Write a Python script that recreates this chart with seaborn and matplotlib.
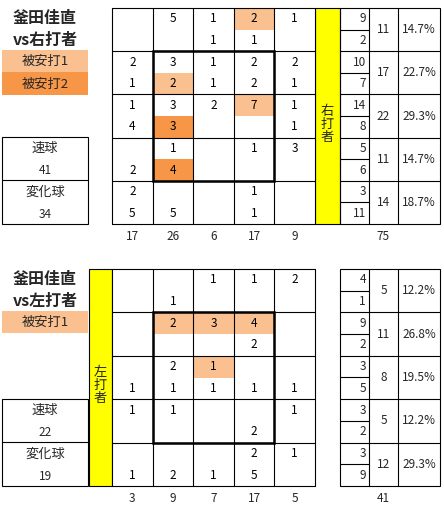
import numpy as np
import matplotlib
matplotlib.use('Agg')
import matplotlib.pyplot as plt
import seaborn as sns
from matplotlib.colors import ListedColormap
from matplotlib.patches import Rectangle

# upper number in each cell = fastball, lower = breaking ball (rows: high -> low, cols: in -> out)
R_FAST = [[0, 5, 1, 2, 1], [2, 3, 1, 2, 2], [1, 3, 2, 7, 1], [0, 1, 0, 1, 3], [2, 0, 0, 1, 0]]
R_BREAK = [[0, 0, 1, 1, 0], [1, 2, 1, 2, 1], [4, 3, 0, 0, 1], [2, 4, 0, 0, 0], [5, 5, 0, 1, 0]]
R_FAST_HIT = [[0, 0, 0, 1, 0], [0, 0, 0, 0, 0], [0, 0, 0, 1, 0], [0, 0, 0, 0, 0], [0, 0, 0, 0, 0]]
R_BREAK_HIT = [[0, 0, 0, 0, 0], [0, 1, 0, 0, 0], [0, 2, 0, 0, 0], [0, 2, 0, 0, 0], [0, 0, 0, 0, 0]]
R_COL_TOT = [17, 26, 6, 17, 9]
R_ROW_FAST = [9, 10, 14, 5, 3]
R_ROW_BREAK = [2, 7, 8, 6, 11]
R_ROW_TOT = [11, 17, 22, 11, 14]
R_ROW_PCT = ['14.7%', '22.7%', '29.3%', '14.7%', '18.7%']
R_TOTAL, R_FAST_TOT, R_BREAK_TOT = 75, 41, 34

L_FAST = [[0, 0, 1, 1, 2], [0, 2, 3, 4, 0], [0, 2, 1, 0, 0], [1, 1, 0, 0, 1], [0, 0, 0, 2, 1]]
L_BREAK = [[0, 1, 0, 0, 0], [0, 0, 0, 2, 0], [1, 1, 1, 1, 1], [0, 0, 0, 2, 0], [1, 2, 1, 5, 0]]
L_FAST_HIT = [[0, 0, 0, 0, 0], [0, 1, 1, 1, 0], [0, 0, 1, 0, 0], [0, 0, 0, 0, 0], [0, 0, 0, 0, 0]]
L_BREAK_HIT = [[0, 0, 0, 0, 0]] * 5
L_COL_TOT = [3, 9, 7, 17, 5]
L_ROW_FAST = [4, 9, 3, 3, 3]
L_ROW_BREAK = [1, 2, 5, 2, 9]
L_ROW_TOT = [5, 11, 8, 5, 12]
L_ROW_PCT = ['12.2%', '26.8%', '19.5%', '12.2%', '29.3%']
L_TOTAL, L_FAST_TOT, L_BREAK_TOT = 41, 22, 19

LIGHT, DARK, YELLOW = '#FAC090', '#F79646', '#FFFF00'
NUM_FS = 8.5
LW = 0.8

sns.set_theme(style='white')
plt.rcParams['font.family'] = ['Noto Sans CJK JP', 'DejaVu Sans']

W, H = 444, 511
fig = plt.figure(figsize=(W / 100, H / 100), dpi=100)
bg = fig.add_axes([0, 0, 1, 1])
bg.set_xlim(0, W)
bg.set_ylim(H, 0)
bg.axis('off')
cmap = ListedColormap(['white', LIGHT, DARK])


def fig_box(x0, y0, x1, y1):
    return [x0 / W, 1 - y1 / H, (x1 - x0) / W, (y1 - y0) / H]


def zone_grid(x0, y0, x1, y1, fast, brk, fast_hit, brk_hit, col_tot):
    ax = fig.add_axes(fig_box(x0, y0, x1, y1))
    hit = np.array([row for pair in zip(fast_hit, brk_hit) for row in pair])
    vals = [row for pair in zip(fast, brk) for row in pair]
    labels = np.array([[str(v) if v else '' for v in row] for row in vals])
    sns.heatmap(hit, ax=ax, cmap=cmap, vmin=0, vmax=2, cbar=False,
                annot=labels, fmt='', annot_kws=dict(color='black', fontsize=NUM_FS),
                xticklabels=False, yticklabels=False)
    for i in range(6):
        ax.axhline(2 * i, color='black', lw=LW, clip_on=False)
        ax.axvline(i, color='black', lw=LW, clip_on=False)
    # strike zone
    ax.add_patch(Rectangle((1, 2), 3, 6, fill=False, ec='black', lw=1.8, clip_on=False))
    cw = (x1 - x0) / 5
    for j, t in enumerate(col_tot):
        bg.text(x0 + (j + 0.5) * cw, y1 + 13, str(t), ha='center', va='center', fontsize=NUM_FS)


def side_table(y0, y1, fast_n, brk_n, tot_n, pct, total):
    rh = (y1 - y0) / 5
    bg.add_patch(Rectangle((340, y0), 100, y1 - y0, fill=False, ec='black', lw=LW))
    bg.vlines([369, 398], y0, y1, color='black', lw=LW)
    for i in range(5):
        ya = y0 + i * rh
        if i:
            bg.hlines(ya, 340, 440, color='black', lw=LW)
        bg.hlines(ya + rh / 2, 340, 369, color='black', lw=LW)
        bg.text(366, ya + rh / 4, str(fast_n[i]), ha='right', va='center', fontsize=NUM_FS)
        bg.text(366, ya + 3 * rh / 4, str(brk_n[i]), ha='right', va='center', fontsize=NUM_FS)
        bg.text(383.5, ya + rh / 2, str(tot_n[i]), ha='center', va='center', fontsize=NUM_FS)
        bg.text(419, ya + rh / 2, pct[i], ha='center', va='center', fontsize=NUM_FS)
    bg.text(383.5, y1 + 13, str(total), ha='center', va='center', fontsize=NUM_FS)


def side_labels(y_title, legend, y_pitch, fast_tot, brk_tot, vs_text):
    bg.text(45, y_title, '釜田佳直', ha='center', va='center', fontsize=11.5, fontweight='bold')
    bg.text(45, y_title + 22, vs_text, ha='center', va='center', fontsize=11.5, fontweight='bold')
    for k, (label, color) in enumerate(legend):
        ya = y_title + 32 + k * 22.5
        bg.add_patch(Rectangle((2, ya), 86, 22.5, fc=color, ec='none'))
        bg.text(45, ya + 11.5, label, ha='center', va='center', fontsize=9.5)
    bg.add_patch(Rectangle((2, y_pitch), 86, 87, fill=False, ec='black', lw=LW))
    bg.hlines(y_pitch + 43.5, 2, 88, color='black', lw=LW)
    bg.text(45, y_pitch + 11, '速球', ha='center', va='center', fontsize=9.5)
    bg.text(45, y_pitch + 33, str(fast_tot), ha='center', va='center', fontsize=NUM_FS)
    bg.text(45, y_pitch + 55, '変化球', ha='center', va='center', fontsize=9.5)
    bg.text(45, y_pitch + 77, str(brk_tot), ha='center', va='center', fontsize=NUM_FS)


def batter_bar(x0, y0, y1, text):
    w = 25 if x0 > 200 else 23
    bg.add_patch(Rectangle((x0, y0), w, y1 - y0, fc=YELLOW, ec='black', lw=LW))
    bg.text(x0 + w / 2, (y0 + y1) / 2 + 8, '\n'.join(text), ha='center', va='center',
            fontsize=9.5, linespacing=1.0)


# vs right-handed batters
side_labels(18, [('被安打1', LIGHT), ('被安打2', DARK)], 137, R_FAST_TOT, R_BREAK_TOT, 'vs右打者')
zone_grid(112, 8, 315, 224, R_FAST, R_BREAK, R_FAST_HIT, R_BREAK_HIT, R_COL_TOT)
batter_bar(315, 8, 224, '右打者')
side_table(8, 224, R_ROW_FAST, R_ROW_BREAK, R_ROW_TOT, R_ROW_PCT, R_TOTAL)

# vs left-handed batters
side_labels(279, [('被安打1', LIGHT)], 399, L_FAST_TOT, L_BREAK_TOT, 'vs左打者')
zone_grid(112, 269, 315, 486, L_FAST, L_BREAK, L_FAST_HIT, L_BREAK_HIT, L_COL_TOT)
batter_bar(89, 269, 486, '左打者')
side_table(269, 486, L_ROW_FAST, L_ROW_BREAK, L_ROW_TOT, L_ROW_PCT, L_TOTAL)

fig.savefig('out.png', dpi=100, facecolor='white')
